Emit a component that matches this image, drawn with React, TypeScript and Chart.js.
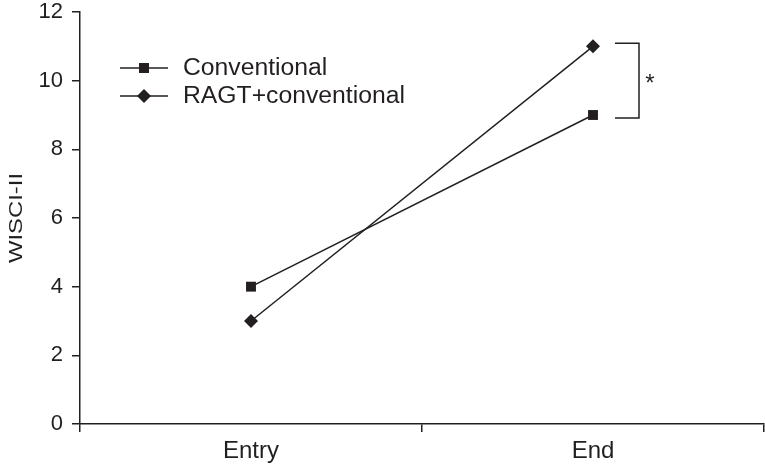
import React, { useEffect, useRef } from "react";
import { Chart, registerables } from "chart.js";

Chart.register(...registerables);

const categories = ["Entry", "End"];
const conventional = [4, 9];
const ragtConventional = [3, 11];
const seriesNames = ["Conventional", "RAGT+conventional"];
const yTicks = [0, 2, 4, 6, 8, 10, 12];
const yTitle = "WISCI-II";
const significance = "*";

const INK = "#231f20";
const FONT = "'Liberation Sans', Arial, sans-serif";

const overlayPlugin = {
  id: "overlay",
  afterDraw(chart: any) {
    const ctx = chart.ctx;
    const x = chart.scales.x;
    const y = chart.scales.y;
    ctx.save();
    ctx.strokeStyle = INK;
    ctx.fillStyle = INK;
    ctx.lineWidth = 1.5;
    // y title (slightly stretched like the source)
    ctx.save();
    ctx.font = `19px ${FONT}`;
    const tw = ctx.measureText(yTitle).width;
    ctx.translate(17, (y.top + y.bottom) / 2);
    ctx.rotate(-Math.PI / 2);
    ctx.scale(90 / tw, 1);
    ctx.textAlign = "center";
    ctx.textBaseline = "middle";
    ctx.fillText(yTitle, 0, 0);
    ctx.restore();
    // legend
    const rows = [
      { label: seriesNames[0], style: "rect", y: 68 },
      { label: seriesNames[1], style: "rectRot", y: 96 },
    ];
    rows.forEach((r) => {
      ctx.beginPath();
      ctx.moveTo(120, r.y);
      ctx.lineTo(168, r.y);
      ctx.stroke();
      ctx.beginPath();
      if (r.style === "rect") {
        ctx.rect(144 - 5, r.y - 5, 10, 10);
      } else {
        ctx.moveTo(144, r.y - 7);
        ctx.lineTo(151, r.y);
        ctx.lineTo(144, r.y + 7);
        ctx.lineTo(137, r.y);
        ctx.closePath();
      }
      ctx.fill();
      ctx.save();
      ctx.font = `23px ${FONT}`;
      ctx.textBaseline = "middle";
      ctx.textAlign = "left";
      ctx.translate(183, r.y + 1);
      ctx.scale(1.075, 1);
      ctx.fillText(r.label, 0, 0);
      ctx.restore();
    });
    // significance bracket
    const xe = x.getPixelForValue(1);
    const yt = y.getPixelForValue(ragtConventional[1]) - 3;
    const yb = y.getPixelForValue(conventional[1]) + 3;
    ctx.beginPath();
    ctx.moveTo(xe + 22, yt);
    ctx.lineTo(xe + 46, yt);
    ctx.lineTo(xe + 46, yb);
    ctx.lineTo(xe + 22, yb);
    ctx.stroke();
    ctx.font = `24px ${FONT}`;
    ctx.textAlign = "center";
    ctx.textBaseline = "middle";
    ctx.fillText(significance, xe + 57, (yt + yb) / 2 + 4);
    ctx.restore();
  },
};

export default function App() {
  const ref = useRef<HTMLCanvasElement>(null);
  useEffect(() => {
    if (!ref.current) return;
    const chart = new Chart(ref.current, {
      type: "line",
      data: {
        labels: categories,
        datasets: [
          {
            label: seriesNames[0],
            data: conventional,
            borderColor: INK,
            backgroundColor: INK,
            borderWidth: 1.5,
            pointStyle: "rect",
            pointRadius: 7,
            pointBorderWidth: 0,
          },
          {
            label: seriesNames[1],
            data: ragtConventional,
            borderColor: INK,
            backgroundColor: INK,
            borderWidth: 1.5,
            pointStyle: "rectRot",
            pointRadius: 7,
            pointBorderWidth: 0,
          },
        ],
      },
      options: {
        responsive: false,
        animation: false,
        layout: { autoPadding: false, padding: { top: 12, right: 1, left: 0, bottom: 0 } },
        plugins: { legend: { display: false }, tooltip: { enabled: false } },
        scales: {
          x: {
            offset: true,
            grid: {
              offset: true,
              drawOnChartArea: false,
              tickLength: 8,
              color: INK,
              lineWidth: 1.5,
            },
            border: { color: INK, width: 1.5 },
            ticks: { color: INK, font: { family: FONT, size: 24 }, padding: 5 },
            afterFit: (s: any) => {
              s.height = 42;
              s.paddingLeft = 0;
              s.paddingRight = 0;
            },
          },
          y: {
            min: 0,
            max: 12,
            afterBuildTicks: (s: any) => {
              s.ticks = yTicks.map((v) => ({ value: v }));
            },
            grid: {
              drawOnChartArea: false,
              tickLength: 8,
              color: INK,
              lineWidth: 1.5,
            },
            border: { color: INK, width: 1.5 },
            ticks: { color: INK, font: { family: FONT, size: 22 }, padding: 9 },
            afterFit: (s: any) => {
              s.width = 80;
              s.paddingTop = 0;
              s.paddingBottom = 0;
            },
          },
        },
      },
      plugins: [overlayPlugin],
    });
    return () => chart.destroy();
  }, []);
  return (
    <div style={{ position: "absolute", left: 0, top: 0, width: 765, height: 466 }}>
      <canvas ref={ref} width={765} height={466} style={{ display: "block" }} />
    </div>
  );
}
